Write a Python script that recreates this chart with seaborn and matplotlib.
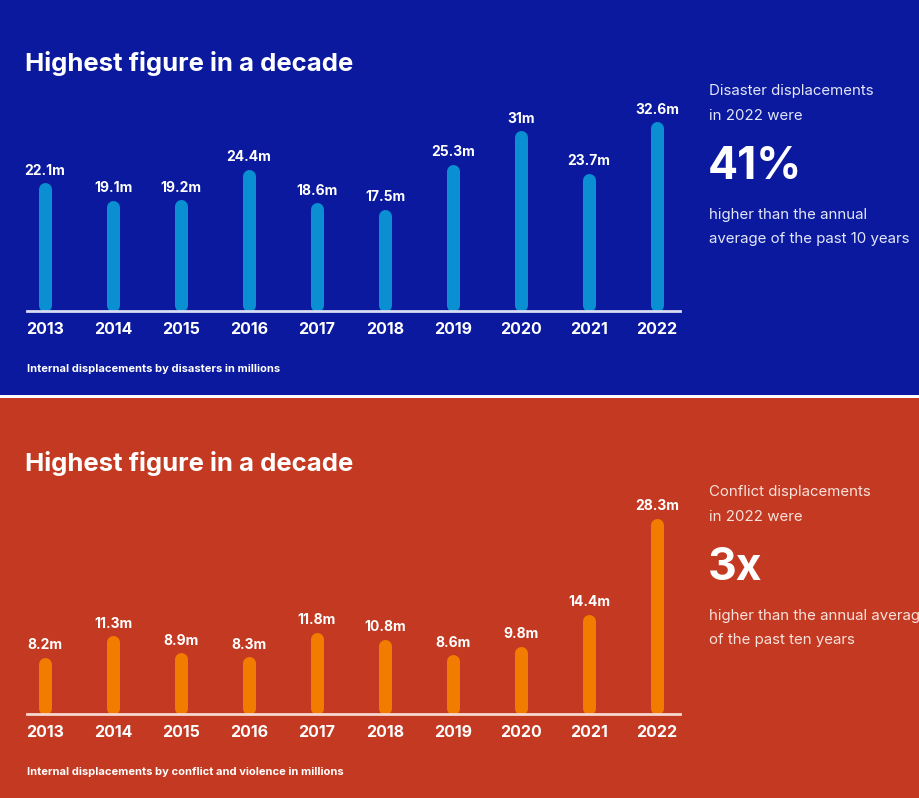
import matplotlib
matplotlib.use("Agg")
import matplotlib.pyplot as plt
import seaborn as sns
import pandas as pd
from matplotlib.patches import Rectangle

# data
years = ["2013", "2014", "2015", "2016", "2017", "2018", "2019", "2020", "2021", "2022"]
disaster = [22.1, 19.1, 19.2, 24.4, 18.6, 17.5, 25.3, 31.0, 23.7, 32.6]
conflict = [8.2, 11.3, 8.9, 8.3, 11.8, 10.8, 8.6, 9.8, 14.4, 28.3]
disaster_labels = ["22.1m", "19.1m", "19.2m", "24.4m", "18.6m", "17.5m", "25.3m", "31m", "23.7m", "32.6m"]
conflict_labels = ["8.2m", "11.3m", "8.9m", "8.3m", "11.8m", "10.8m", "8.6m", "9.8m", "14.4m", "28.3m"]

W, H = 920, 798
BLUE_BG, BLUE_BAR, BLUE_TXT, BLUE_LINE = "#0A199E", "#0A8FD2", "#E4E7F8", "#D8DCF5"
RED_BG, RED_BAR, RED_TXT, RED_LINE = "#C43921", "#F27C00", "#F8E2DC", "#F6D8CF"
BAR_PX = 13  # bar thickness in pixels

sns.set_theme(style="white")
plt.rcParams["font.family"] = ["Inter", "DejaVu Sans"]

fig = plt.figure(figsize=(W / 100, H / 100), dpi=100, facecolor="white")


def fx(px):
    return px / W


def fy(py):
    return 1 - py / H


# panel backgrounds
fig.patches.append(Rectangle((0, fy(395)), 1, 1 - fy(395), transform=fig.transFigure,
                             facecolor=BLUE_BG, edgecolor="none", zorder=-5))
fig.patches.append(Rectangle((0, 0), 1, fy(398), transform=fig.transFigure,
                             facecolor=RED_BG, edgecolor="none", zorder=-5))


def panel(values, labels, base_py, top_py, scale, bar_col, line_col, txt_col,
          note, side_lines, big, side_top, title_py):
    ax = fig.add_axes([fx(27), fy(base_py), fx(680) - fx(27), (base_py - top_py) / H])
    df = pd.DataFrame({"year": years, "value": values})
    sns.barplot(data=df, x="year", y="value", ax=ax, color=bar_col, saturation=1,
                width=0.2, errorbar=None)
    # turn each seaborn bar into a pill with rounded ends
    r = (BAR_PX / 2) / scale
    for p in list(ax.patches):
        xc = p.get_x() + p.get_width() / 2
        h = p.get_height()
        ax.plot([xc, xc], [r, h - r], color=bar_col, lw=BAR_PX * 0.72,
                solid_capstyle="round", clip_on=False, zorder=2)
        p.remove()
    ax.set_xlim(-0.265, 9.34)
    ax.set_ylim(0, (base_py - top_py) / scale)
    for i, (v, lab) in enumerate(zip(values, labels)):
        ax.annotate(lab, (i, v), xytext=(0, 3.5), textcoords="offset points",
                    ha="center", va="bottom", color="white", fontsize=10,
                    fontweight="bold")
    ax.set_facecolor("none")
    for s in ["top", "right", "left"]:
        ax.spines[s].set_visible(False)
    ax.spines["bottom"].set_color(line_col)
    ax.spines["bottom"].set_linewidth(2)
    ax.spines["bottom"].set_zorder(3)
    ax.set_yticks([])
    ax.set_xlabel("")
    ax.set_ylabel("")
    ax.tick_params(axis="x", length=0, pad=8, labelsize=11.5, labelcolor="white")
    for t in ax.get_xticklabels():
        t.set_fontweight("bold")

    fig.text(fx(25), fy(title_py), "Highest figure in a decade", color="white",
             fontsize=18.5, fontweight="bold", va="center", ha="left")
    fig.text(fx(27), fy(base_py + 58), note, color="white", fontsize=8,
             fontweight="bold", va="center", ha="left")
    fig.text(fx(709), fy(side_top), side_lines[0], color=txt_col, fontsize=10.8, va="center")
    fig.text(fx(709), fy(side_top + 25), side_lines[1], color=txt_col, fontsize=10.8, va="center")
    fig.text(fx(708), fy(side_top + 76), big, color="white", fontsize=32,
             fontweight="bold", va="center")
    fig.text(fx(709), fy(side_top + 124), side_lines[2], color=txt_col, fontsize=10.8, va="center")
    fig.text(fx(709), fy(side_top + 148), side_lines[3], color=txt_col, fontsize=10.8, va="center")
    return ax


panel(disaster, disaster_labels, 311, 90, 5.81, BLUE_BAR, BLUE_LINE, BLUE_TXT,
      "Internal displacements by disasters in millions",
      ["Disaster displacements", "in 2022 were", "higher than the annual",
       "average of the past 10 years"], "41%", 91, 63)

panel(conflict, conflict_labels, 714, 490, 6.92, RED_BAR, RED_LINE, RED_TXT,
      "Internal displacements by conflict and violence in millions",
      ["Conflict displacements", "in 2022 were", "higher than the annual average",
       "of the past ten years"], "3x", 492, 464)

fig.savefig("out.png", dpi=100, facecolor=fig.get_facecolor())
